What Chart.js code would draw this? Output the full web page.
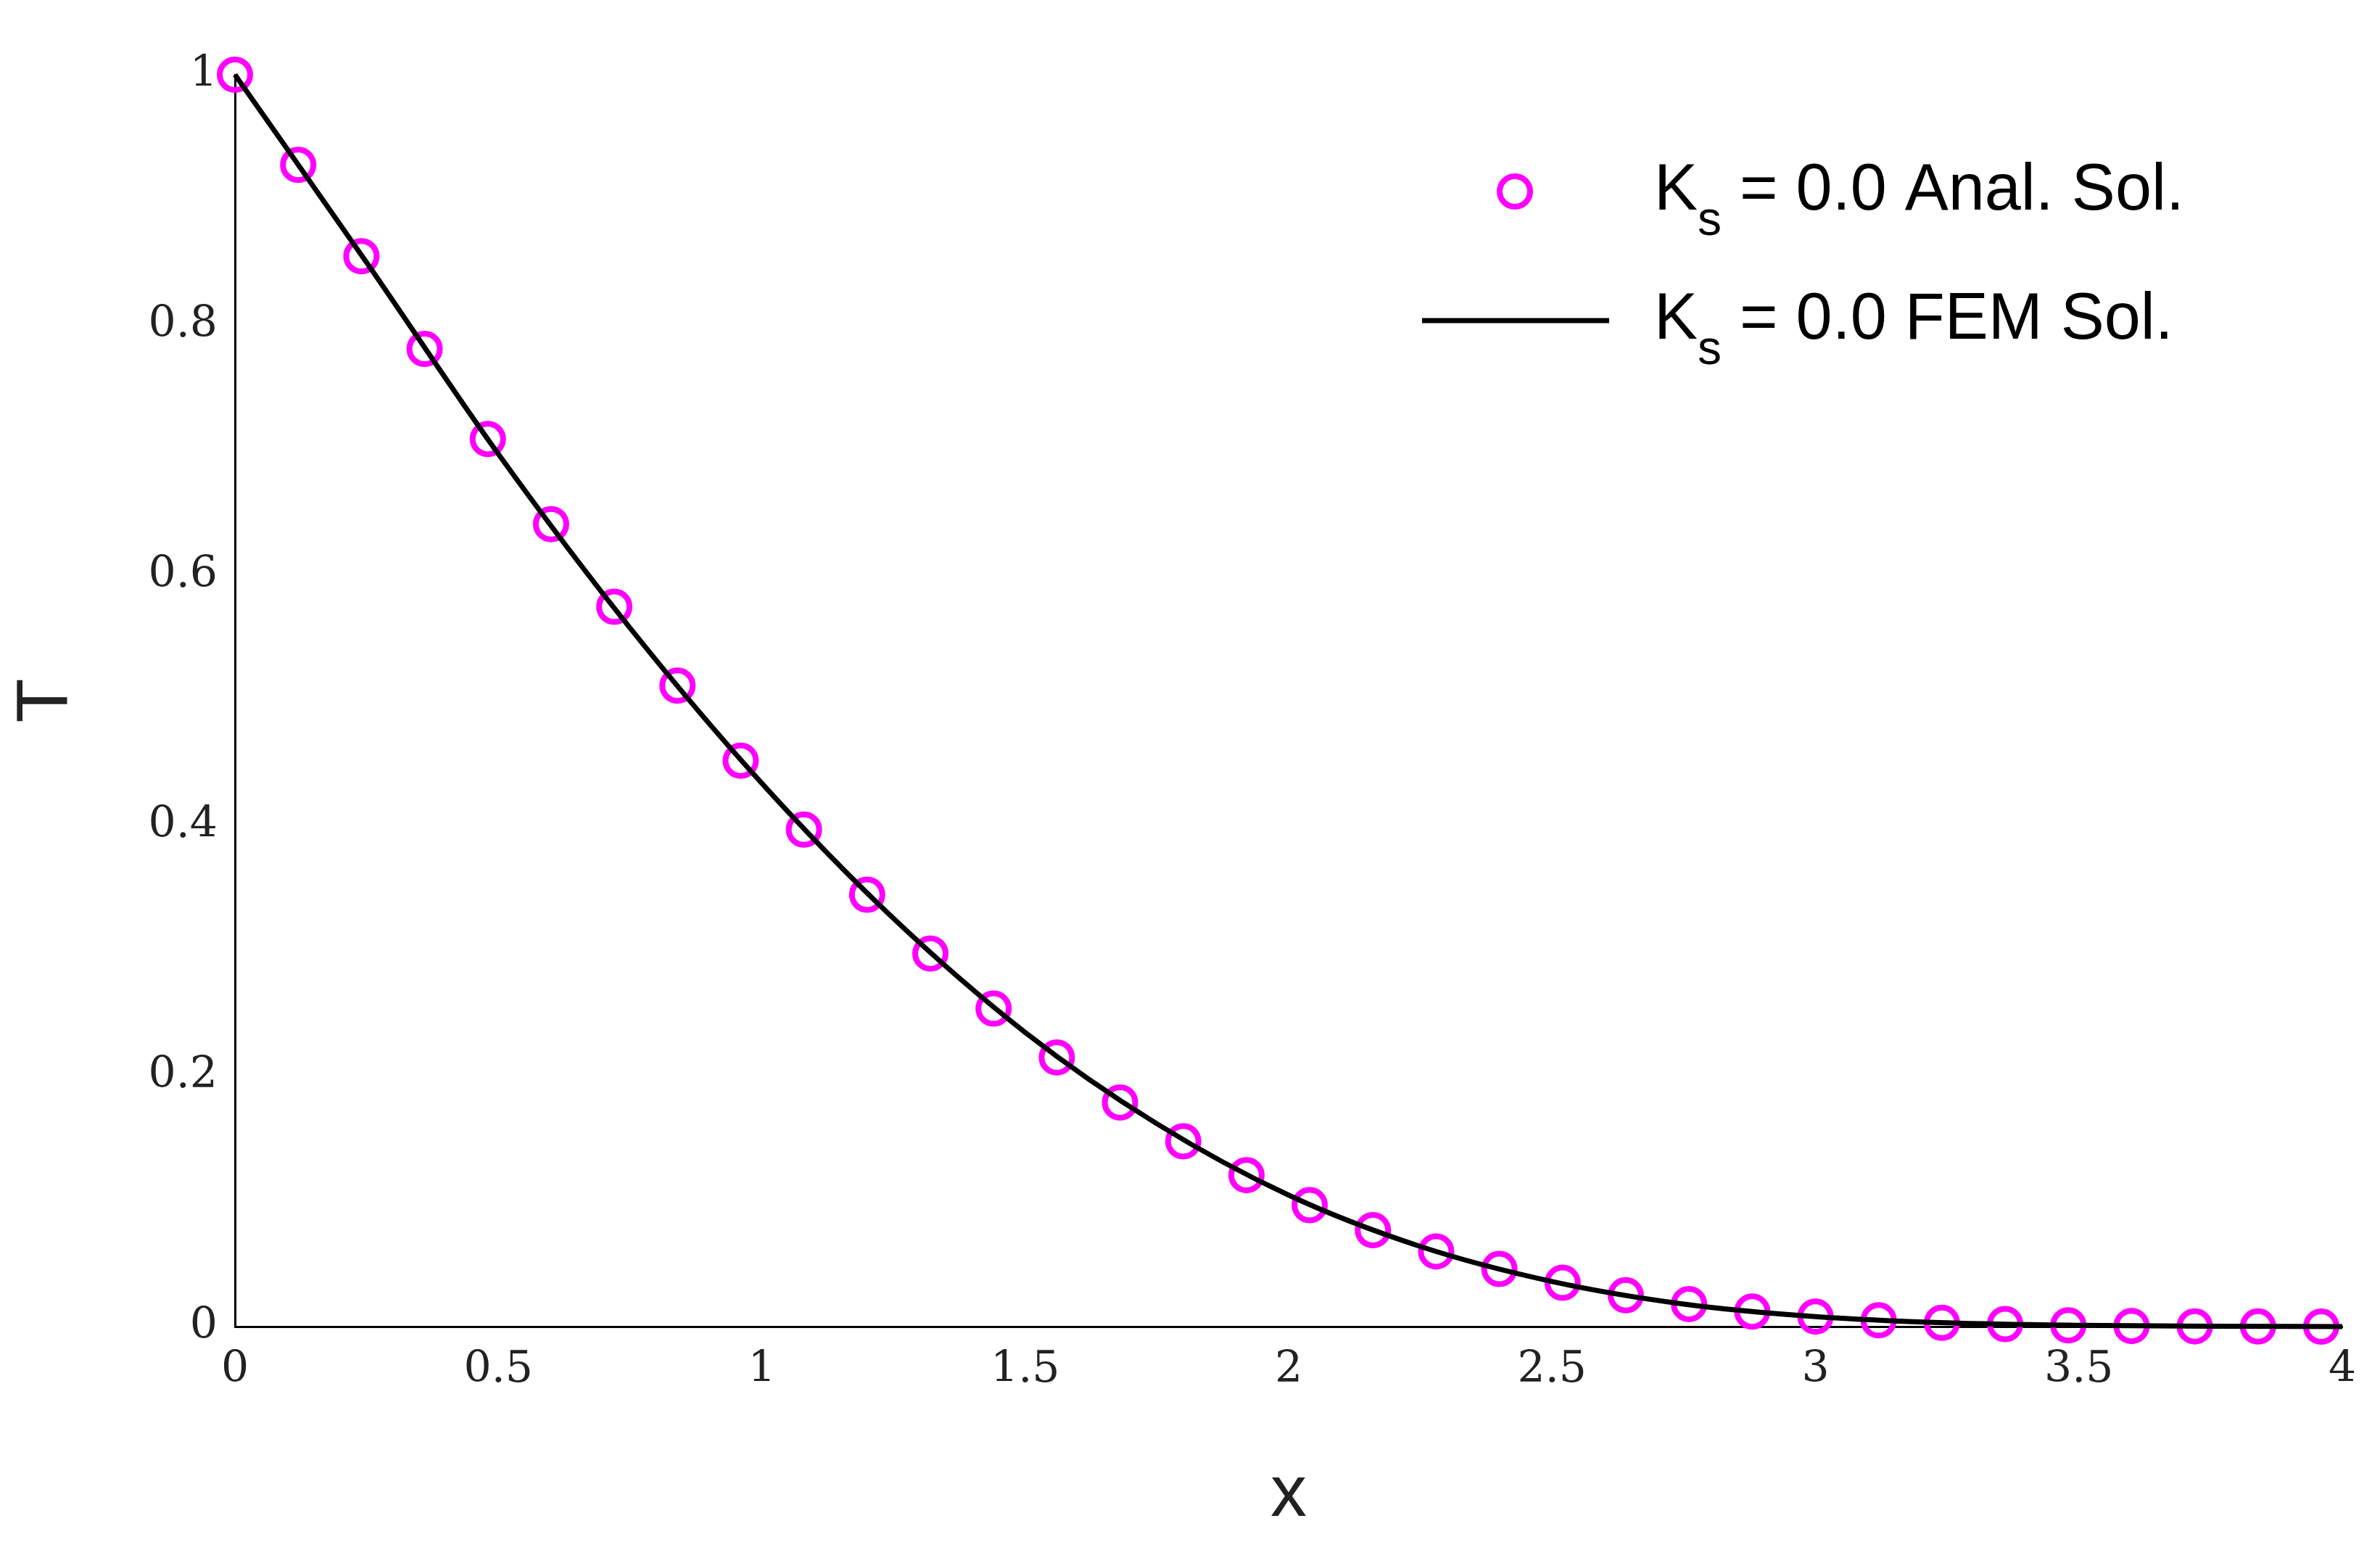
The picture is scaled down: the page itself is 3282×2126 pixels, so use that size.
<!DOCTYPE html>
<html>
<head>
<meta charset="utf-8">
<script src="https://cdn.jsdelivr.net/npm/chart.js@4.4.0/dist/chart.umd.min.js"></script>
<style>
  html, body { margin: 0; padding: 0; background: #fff; }
  #wrap { width: 3282px; height: 2126px; position: relative; }
</style>
</head>
<body>
<div id="wrap"><canvas id="myChart"></canvas></div>
<script>
// analytical solution samples
const analX = [0, 0.12, 0.24, 0.36, 0.48, 0.6, 0.72, 0.84, 0.96, 1.08, 1.2, 1.32, 1.44, 1.56, 1.68, 1.8, 1.92,
  2.04, 2.16, 2.28, 2.4, 2.52, 2.64, 2.76, 2.88, 3.0, 3.12, 3.24, 3.36, 3.48, 3.6, 3.72, 3.84, 3.96];
const analT = [1.0, 0.928, 0.855, 0.781, 0.709, 0.641, 0.575, 0.512, 0.452, 0.397, 0.345, 0.298, 0.254, 0.215,
  0.179, 0.148, 0.121, 0.097, 0.077, 0.060, 0.046, 0.035, 0.025, 0.018, 0.012, 0.008, 0.005, 0.003, 0.002,
  0.001, 0.0005, 0.0002, 0.0001, 0.0];

// FEM solution
const femX = [0, 0.25, 0.5, 0.75, 1, 1.25, 1.5, 1.75, 2, 2.25, 2.5, 2.75, 3, 3.25, 3.5, 3.75, 4];
const femT = [1.0, 0.85, 0.697, 0.558, 0.434, 0.326, 0.235, 0.162, 0.105, 0.064, 0.036, 0.018, 0.008,
  0.003, 0.001, 0.0003, 0.0];

const xTicks = [0, 0.5, 1, 1.5, 2, 2.5, 3, 3.5, 4];
const yTicks = [0, 0.2, 0.4, 0.6, 0.8, 1];

const tickFont = { family: "DejaVu Serif", size: 60 };
const sansFont = "Liberation Sans";

const legendPlugin = {
  id: "customLegend",
  afterDraw(chart) {
    const c = chart.ctx;
    c.save();
    c.strokeStyle = "#ff00ff";
    c.lineWidth = 8;
    c.beginPath();
    c.arc(2089, 264, 21, 0, Math.PI * 2);
    c.stroke();
    c.strokeStyle = "#000";
    c.lineWidth = 7;
    c.beginPath();
    c.moveTo(1961, 442);
    c.lineTo(2219, 442);
    c.stroke();
    const rows = [[" = 0.0 Anal. Sol.", 264], [" = 0.0 FEM Sol.", 442]];
    c.fillStyle = "#000";
    c.textBaseline = "middle";
    for (const [txt, y] of rows) {
      c.font = "90px '" + sansFont + "'";
      c.fillText("K", 2281, y);
      const kw = c.measureText("K").width;
      c.font = "66px '" + sansFont + "'";
      c.fillText("s", 2281 + kw, y + 42);
      const sw = c.measureText("s").width;
      c.font = "90px '" + sansFont + "'";
      c.fillText(txt, 2281 + kw + sw, y);
    }
    c.restore();
  }
};

const ctx = document.getElementById("myChart").getContext("2d");
new Chart(ctx, {
  type: "scatter",
  data: {
    datasets: [{
      label: "Ks = 0.0 Anal. Sol.",
      data: analX.map((x, i) => ({ x: x, y: analT[i] })),
      showLine: false,
      clip: false,
      pointRadius: 21,
      pointBorderWidth: 8,
      pointBorderColor: "#ff00ff",
      pointBackgroundColor: "rgba(0,0,0,0)",
      order: 2
    }, {
      label: "Ks = 0.0 FEM Sol.",
      data: femX.map((x, i) => ({ x: x, y: femT[i] })),
      showLine: true,
      clip: false,
      borderColor: "#000",
      borderWidth: 7,
      pointRadius: 0,
      cubicInterpolationMode: "monotone",
      order: 1
    }]
  },
  options: {
    responsive: true,
    maintainAspectRatio: false,
    animation: false,
    layout: { padding: { top: 103, right: 52, left: 0, bottom: 0 } },
    plugins: { legend: { display: false }, tooltip: { enabled: false } },
    scales: {
      x: {
        type: "linear", min: 0, max: 4,
        afterBuildTicks: a => { a.ticks = xTicks.map(v => ({ value: v })); },
        afterFit: a => { a.height = 297; },
        grid: { display: false, drawTicks: false },
        border: { display: true, color: "#000", width: 3 },
        ticks: { color: "#222", font: tickFont, padding: 24, callback: v => String(v) },
        title: { display: true, text: "x", color: "#222", font: { family: sansFont, size: 100 }, padding: { top: 40 } }
      },
      y: {
        type: "linear", min: 0, max: 1,
        afterBuildTicks: a => { a.ticks = yTicks.map(v => ({ value: v })); },
        afterFit: a => { a.width = 324; },
        grid: { display: false, drawTicks: false },
        border: { display: true, color: "#000", width: 3 },
        ticks: { color: "#222", font: tickFont, padding: 24, callback: v => String(v) },
        title: { display: true, text: "T", color: "#222", font: { family: sansFont, size: 100 }, padding: { bottom: 20 } }
      }
    }
  },
  plugins: [legendPlugin]
});
</script>
</body>
</html>
